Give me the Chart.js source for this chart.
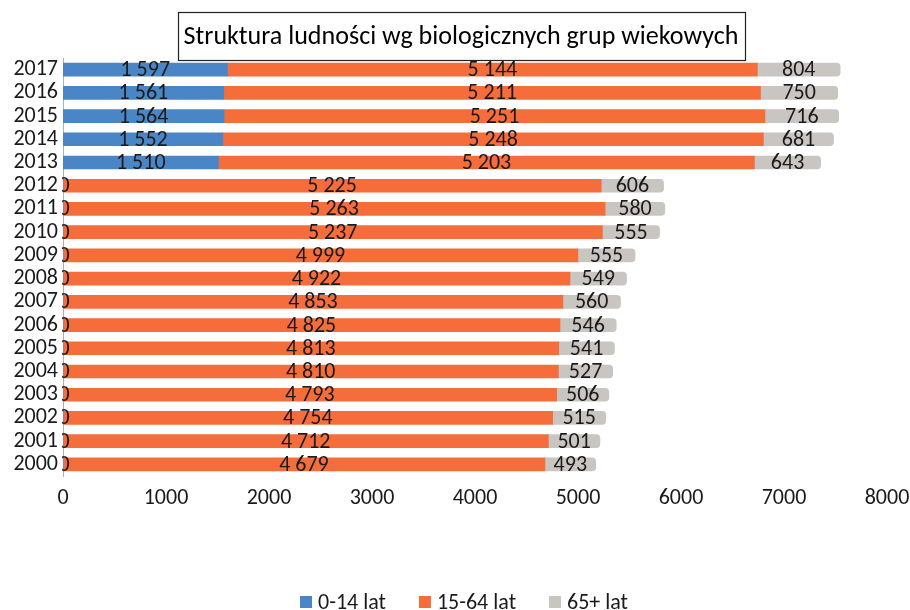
<!DOCTYPE html>
<html>
<head>
<meta charset="utf-8">
<script src="https://cdn.jsdelivr.net/npm/chart.js@4.4.1/dist/chart.umd.min.js"></script>
<style>
html,body{margin:0;padding:0;background:#fff;}
#wrap{width:910px;height:610px;position:relative;}
</style>
</head>
<body>
<div id="wrap"><canvas id="c" width="910" height="610"></canvas></div>
<script>
const titleText = 'Struktura ludności wg biologicznych grup wiekowych';
const years = ['2017','2016','2015','2014','2013','2012','2011','2010','2009','2008','2007','2006','2005','2004','2003','2002','2001','2000'];
const age0_14 = [1597,1561,1564,1552,1510,0,0,0,0,0,0,0,0,0,0,0,0,0];
const age15_64 = [5144,5211,5251,5248,5203,5225,5263,5237,4999,4922,4853,4825,4813,4810,4793,4754,4712,4679];
const age65 = [804,750,716,681,643,606,580,555,555,549,560,546,541,527,506,515,501,493];
const seriesNames = ['0-14 lat','15-64 lat','65+ lat'];
const seriesColors = ['#4a86c6','#f56d3a','#c9c6c2'];
const xTicks = [0,1000,2000,3000,4000,5000,6000,7000,8000];

const FONT = 'Carlito, "Open Sans", sans-serif';
function fmt(v){ return String(v).replace(/\B(?=(\d{3})+(?!\d))/g,' '); }

const labelPlugin = {
  id:'labels',
  afterDatasetsDraw(chart){
    const ctx = chart.ctx;
    ctx.save();
    ctx.font = '22px ' + FONT;
    ctx.fillStyle = '#1a1a1a';
    ctx.textAlign = 'center';
    ctx.textBaseline = 'middle';
    chart.data.datasets.forEach((ds, di) => {
      const meta = chart.getDatasetMeta(di);
      meta.data.forEach((el, i) => {
        const v = ds.data[i];
        const cx = (el.x + el.base) / 2;
        if (v === 0) {
          ctx.save();
          ctx.beginPath();
          ctx.rect(chart.chartArea.left - 1, 0, 40, chart.height);
          ctx.clip();
          ctx.fillText('0', el.base + 1, el.y + 1);
          ctx.restore();
        } else {
          ctx.fillText(fmt(v), cx, el.y + 1);
        }
      });
    });
    ctx.restore();
  }
};

const titlePlugin = {
  id:'boxTitle',
  afterDraw(chart){
    const ctx = chart.ctx;
    ctx.save();
    let size = 22;
    ctx.font = size + 'px ' + FONT;
    const w = ctx.measureText(titleText).width;
    size = size * 555 / w;
    ctx.font = size + 'px ' + FONT;
    ctx.fillStyle = '#000';
    ctx.textAlign = 'center';
    ctx.textBaseline = 'middle';
    ctx.fillText(titleText, 461, 37);
    ctx.strokeStyle = '#222';
    ctx.lineWidth = 1.2;
    ctx.strokeRect(178.5, 12.5, 567, 48);
    ctx.restore();
  }
};

const legendPlugin = {
  id:'bottomLegend',
  afterDraw(chart){
    const ctx = chart.ctx;
    ctx.save();
    ctx.font = '22px ' + FONT;
    ctx.textBaseline = 'middle';
    ctx.textAlign = 'left';
    const y = 602;
    const gap = 33;
    const items = chart.data.datasets.map(d => ({t:d.label, c:d.backgroundColor}));
    let total = 0;
    items.forEach((it, i) => { it.w = 12 + 6 + ctx.measureText(it.t).width; total += it.w + (i ? gap : 0); });
    let x = 464 - total / 2;
    items.forEach(it => {
      ctx.fillStyle = it.c;
      ctx.fillRect(x, y - 6, 12, 12);
      ctx.fillStyle = '#1a1a1a';
      ctx.fillText(it.t, x + 18, y + 1);
      x += it.w + gap;
    });
    ctx.restore();
  }
};

new Chart(document.getElementById('c'), {
  type:'bar',
  data:{
    labels: years,
    datasets:[
      {label: seriesNames[0], data: age0_14, backgroundColor:seriesColors[0], barThickness:13},
      {label: seriesNames[1], data: age15_64, backgroundColor:seriesColors[1], barThickness:13},
      {label: seriesNames[2], data: age65, backgroundColor:seriesColors[2], barThickness:13,
        borderRadius:{topLeft:0,bottomLeft:0,topRight:4,bottomRight:4}, borderSkipped:false}
    ]
  },
  plugins:[labelPlugin, titlePlugin, legendPlugin],
  options:{
    indexAxis:'y',
    responsive:false,
    animation:false,
    layout:{padding:{top:58, right:23, left:0, bottom:0}},
    scales:{
      x:{
        stacked:true, min:0, max:8000,
        afterBuildTicks(scale){ scale.ticks = xTicks.map(v=>({value:v})); },
        afterFit(scale){ scale.height = 134; scale.paddingLeft = 0; scale.paddingRight = 0; },
        grid:{display:false, drawTicks:false},
        border:{display:false},
        ticks:{font:{size:22, family:FONT}, color:'#1a1a1a', padding:9, maxRotation:0, callback:v=>String(v)}
      },
      y:{
        stacked:true,
        afterFit(scale){ scale.width = 63; },
        grid:{display:false, drawTicks:false},
        border:{display:true, color:'#b0b0b0', width:1},
        ticks:{font:{size:22, family:FONT}, color:'#1a1a1a', padding:5, autoSkip:false}
      }
    },
    plugins:{
      title:{display:false},
      tooltip:{enabled:false},
      legend:{display:false}
    }
  }
});
</script>
</body>
</html>
